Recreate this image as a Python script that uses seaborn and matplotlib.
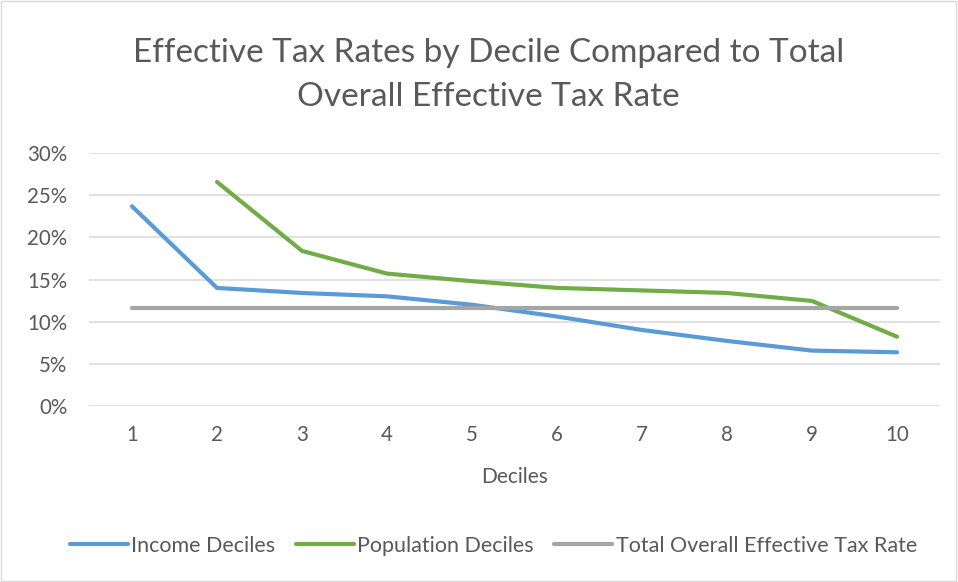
import matplotlib
matplotlib.use("Agg")
import matplotlib.pyplot as plt
from matplotlib.patches import Rectangle
from matplotlib.ticker import PercentFormatter
import seaborn as sns
import pandas as pd

# values (percent)
deciles = [1, 2, 3, 4, 5, 6, 7, 8, 9, 10]
income_deciles = [23.7, 14.0, 13.4, 13.0, 12.0, 10.6, 9.0, 7.7, 6.55, 6.35]
population_deciles = [None, 26.6, 18.4, 15.7, 14.8, 14.0, 13.7, 13.4, 12.45, 8.2]
total_overall = [11.6] * 10
series_names = ["Income Deciles", "Population Deciles", "Total Overall Effective Tax Rate"]
colors = ["#5B9BD5", "#70AD47", "#A5A5A5"]

df = pd.DataFrame({
    "Deciles": deciles * 3,
    "rate": income_deciles + population_deciles + total_overall,
    "series": [series_names[0]] * 10 + [series_names[1]] * 10 + [series_names[2]] * 10,
}).dropna()

sns.set_style("white")
plt.rcParams['font.family'] = ['Lato', 'DejaVu Sans']
text_color = "#595959"

fig = plt.figure(figsize=(9.58, 5.82), dpi=100)
ax = fig.add_axes([0.0934, 0.3029, 0.8873, 0.4337])

sns.lineplot(data=df, x="Deciles", y="rate", hue="series", hue_order=series_names,
             palette=colors, linewidth=3.0, ax=ax, legend=True)
for line in ax.get_lines():
    line.set_solid_capstyle("round")
    line.set_solid_joinstyle("round")

ax.set_xlim(0.5, 10.5)
ax.set_ylim(0, 30)
ax.set_xticks(deciles)
ax.set_yticks([0, 5, 10, 15, 20, 25, 30])
ax.yaxis.set_major_formatter(PercentFormatter(decimals=0))
ax.grid(axis="y", color="#D9D9D9", linewidth=1.1)
ax.set_axisbelow(True)
for s in ax.spines.values():
    s.set_visible(False)
ax.tick_params(axis="both", length=0, labelsize=14.8, labelcolor=text_color)
ax.tick_params(axis="y", pad=16)
ax.tick_params(axis="x", pad=14)
ax.set_ylabel("")
ax.set_xlabel("Deciles", fontsize=15, color=text_color, labelpad=16)

ax.get_legend().remove()
handles, labels = ax.get_legend_handles_labels()
fig.legend(handles, labels, loc="center", bbox_to_anchor=(0.515, 0.062), ncol=3,
           frameon=False, fontsize=15.5, labelcolor=text_color, handlelength=2.7,
           handletextpad=0.15, columnspacing=0.95)

fig.text(0.51, 0.871, "Effective Tax Rates by Decile Compared to Total\nOverall Effective Tax Rate",
         ha="center", va="center", fontsize=24, color=text_color,
         linespacing=1.55)

fig.patches.append(Rectangle((0.001, 0.001), 0.997, 0.997, transform=fig.transFigure,
                             fill=False, edgecolor="#D9D9D9", linewidth=1))

fig.savefig("out.png", dpi=100, facecolor="white")
